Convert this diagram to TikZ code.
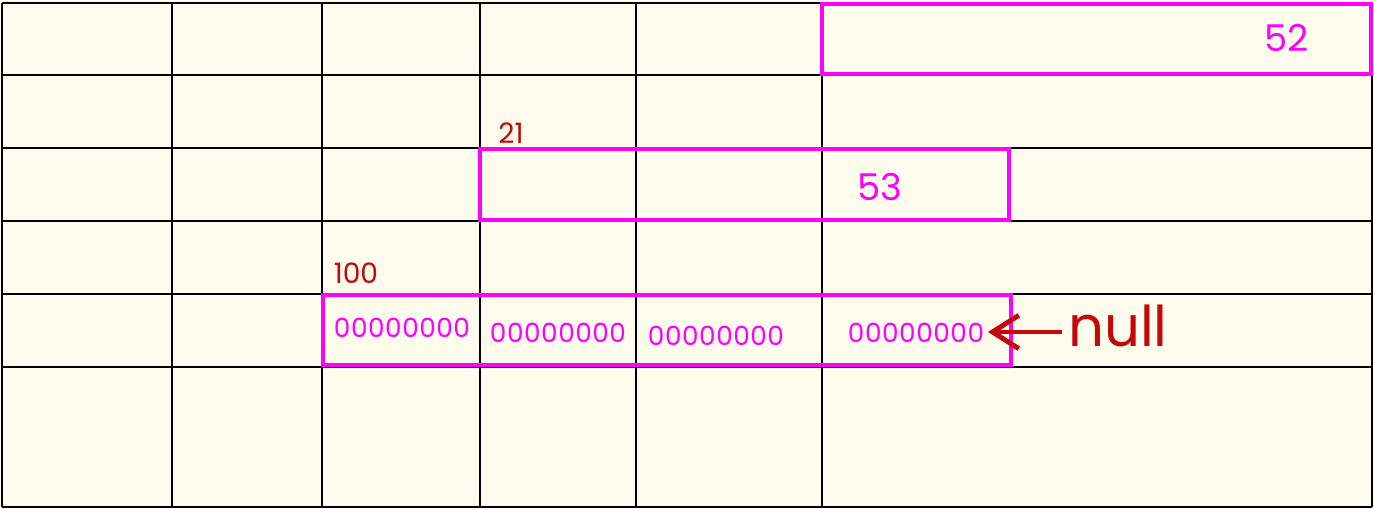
\documentclass[tikz,border=0pt]{standalone}
\usepackage{fontspec}
\setmainfont{Poppins}
\usetikzlibrary{arrows.meta}
\definecolor{paper}{RGB}{253,252,237}
\definecolor{memmagenta}{RGB}{255,0,255}
\definecolor{addrred}{RGB}{196,8,8}
\tikzset{
	gridline/.style={line width=1.2pt, black},
	block/.style={draw=memmagenta, line width=2.4pt},
	val/.style={text=memmagenta, font=\fontsize{21}{23}\selectfont, inner sep=0pt},
	bits/.style={text=memmagenta, font=\fontsize{15}{16}\selectfont\addfontfeature{LetterSpace=2}, inner sep=0pt},
	addr/.style={text=addrred, font=\fontsize{16}{17}\selectfont, inner sep=0pt},
	ptr/.style={draw=addrred, line width=2.8pt, -{Straight Barb[length=15pt, width=19pt]}}
}

\begin{document}
\begin{tikzpicture}[x=0.02cm, y=-0.02cm]
		\useasboundingbox[fill=paper] (0,0) rectangle (1374,509);
		% memory grid
		\foreach \y in {3,75,148,221,294,367,507}
			\draw[gridline] (2,\y) -- (1372,\y);
		\foreach \x in {2,172,322,480,636,822,1372}
			\draw[gridline] (\x,3) -- (\x,507);
		% allocated blocks
		\draw[block] (822,4) rectangle (1371,74);
		\draw[block] (480,149) rectangle (1009,220);
		\draw[block] (323,295) rectangle (1011,365);
		\node[val] (v52) at (1287,38) {52};
		\node[val] (v53) at (880,187) {53};
		\node[addr] (a21) at (511,133) {21};
		\node[addr] (a100) at (356,273) {100};
		\node[bits] (z1) at (402,328) {00000000};
		\node[bits] (z2) at (558,333) {00000000};
		\node[bits] (z3) at (716,336) {00000000};
		\node[bits] (z4) at (916,333) {00000000};
		\node[addr, font=\fontsize{32}{34}\selectfont] (nul) at (1118,326) {null};
		\draw[ptr] (nul.west) ++(-6,6) coordinate (p) (p) -- ([xshift=2]z4.east |- p);
\end{tikzpicture}
\end{document}
